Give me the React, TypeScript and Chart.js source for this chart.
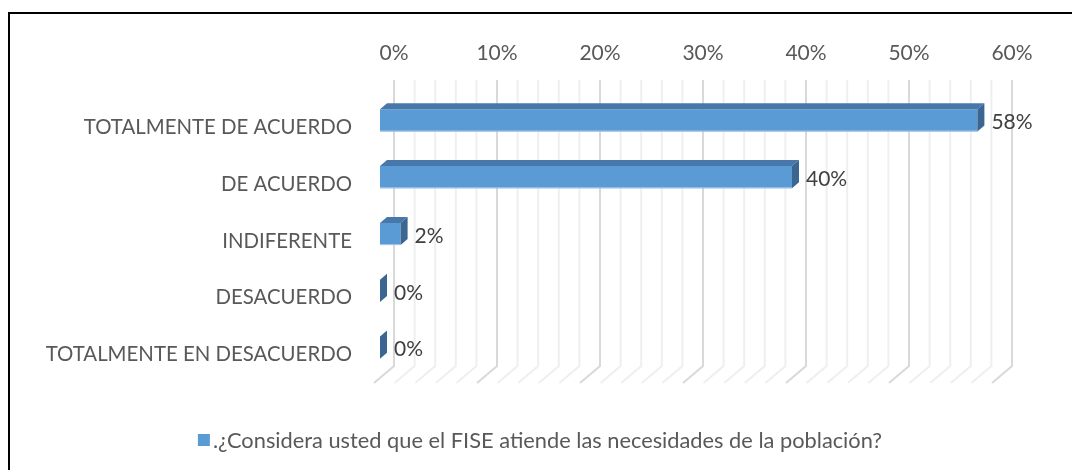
import React, { useEffect, useRef } from "react";
import { Chart, registerables } from "chart.js";

Chart.register(...registerables);

// ---- data ----
const categories = [
  "TOTALMENTE DE ACUERDO",
  "DE ACUERDO",
  "INDIFERENTE",
  "DESACUERDO",
  "TOTALMENTE EN DESACUERDO",
];
const values = [58, 40, 2, 0, 0];
const seriesName =
  ".¿Considera usted que el FISE atiende las necesidades de la población?";
const axisMin = 0;
const axisMax = 60;
const gridStep = 2;
const labelStep = 10;

// ---- style ----
const FONT = "Lato";
const FONT_SIZE = 21;
const CAT_FONT_SIZE = 20.4;
const LEGEND_FONT_SIZE = 21.8;
const TEXT = "#595959";
const BAR = "#5B9BD5";
const BAR_TOP = "#4878aa";
const BAR_SIDE = "#3b6692";
const DEPTH_X = 7;
const DEPTH_Y = -6;

const framePlugin = {
  id: "frame",
  beforeDraw(chart: any) {
    const ctx = chart.ctx;
    ctx.save();
    ctx.fillStyle = "#ffffff";
    ctx.fillRect(0, 0, chart.width, chart.height);
    ctx.strokeStyle = "#000000";
    ctx.lineWidth = 2;
    ctx.beginPath();
    ctx.moveTo(9, chart.height);
    ctx.lineTo(9, 13);
    ctx.lineTo(chart.width, 13);
    ctx.stroke();
    ctx.restore();
  },
};

const gridPlugin = {
  id: "grid3d",
  beforeDatasetsDraw(chart: any) {
    const ctx = chart.ctx;
    const xs = chart.scales.x;
    const { top, bottom } = chart.chartArea;
    ctx.save();
    ctx.lineWidth = 2;
    const draw = (major: boolean) => {
      for (let v = axisMin; v <= axisMax; v += gridStep) {
        const isMajor = v % labelStep === 0;
        if (isMajor !== major) continue;
        const xb = xs.getPixelForValue(v) + 14;
        ctx.strokeStyle = isMajor ? "#d9d9d9" : "#efefef";
        ctx.beginPath();
        ctx.moveTo(xb, top - 12);
        ctx.lineTo(xb, bottom - 10);
        ctx.lineTo(xb - 20, bottom + 7);
        ctx.stroke();
      }
    };
    draw(false);
    draw(true);
    ctx.restore();
  },
};

const barFacesPlugin = {
  id: "barFaces",
  afterDatasetsDraw(chart: any) {
    const ctx = chart.ctx;
    const meta = chart.getDatasetMeta(0);
    ctx.save();
    meta.data.forEach((el: any, i: number) => {
      const { x, y, base, height } = el.getProps(
        ["x", "y", "base", "height"],
        true
      );
      const t = y - height / 2;
      const b = y + height / 2;
      // top face
      ctx.fillStyle = BAR_TOP;
      ctx.beginPath();
      ctx.moveTo(base, t);
      ctx.lineTo(x, t);
      ctx.lineTo(x + DEPTH_X, t + DEPTH_Y);
      ctx.lineTo(base + DEPTH_X, t + DEPTH_Y);
      ctx.closePath();
      ctx.fill();
      // side face
      ctx.fillStyle = BAR_SIDE;
      ctx.beginPath();
      ctx.moveTo(x, t);
      ctx.lineTo(x + DEPTH_X, t + DEPTH_Y);
      ctx.lineTo(x + DEPTH_X, b + DEPTH_Y);
      ctx.lineTo(x, b);
      ctx.closePath();
      ctx.fill();
      // light bottom edge of front face
      if (x > base) {
        ctx.strokeStyle = "#a9c7e6";
        ctx.lineWidth = 1;
        ctx.beginPath();
        ctx.moveTo(base, b - 0.5);
        ctx.lineTo(x, b - 0.5);
        ctx.stroke();
      }
      // data label
      ctx.fillStyle = "#404040";
      ctx.font = `${FONT_SIZE}px ${FONT}`;
      ctx.textAlign = "left";
      ctx.textBaseline = "middle";
      ctx.fillText(`${values[i]}%`, x + 14, y + 2);
    });
    ctx.restore();
  },
};

const legendPlugin = {
  id: "customLegend",
  afterDraw(chart: any) {
    const ctx = chart.ctx;
    ctx.save();
    ctx.font = `${LEGEND_FONT_SIZE}px ${FONT}`;
    const tw = ctx.measureText(seriesName).width;
    const box = 12;
    const gap = 3;
    const total = box + gap + tw;
    const cx = 540;
    const cy = 440;
    const x0 = cx - total / 2;
    ctx.fillStyle = BAR;
    ctx.fillRect(x0, cy - box / 2, box, box);
    ctx.fillStyle = TEXT;
    ctx.textAlign = "left";
    ctx.textBaseline = "middle";
    ctx.fillText(seriesName, x0 + box + gap, cy + 1);
    ctx.restore();
  },
};

export default function App() {
  const ref = useRef<HTMLCanvasElement | null>(null);

  useEffect(() => {
    document.body.style.margin = "0";
    if (!ref.current) return;
    const chart = new Chart(ref.current, {
      type: "bar",
      data: {
        labels: categories,
        datasets: [
          {
            label: seriesName,
            data: values,
            backgroundColor: BAR,
            borderWidth: 0,
            barPercentage: 0.39,
            categoryPercentage: 1,
          },
        ],
      },
      options: {
        indexAxis: "y",
        responsive: false,
        animation: false,
        layout: { padding: { left: 0, right: 74, top: 0, bottom: 94 } },
        plugins: {
          legend: { display: false },
          tooltip: { enabled: false },
        },
        scales: {
          x: {
            position: "top",
            min: axisMin,
            max: axisMax,
            grid: { display: false, drawTicks: false },
            border: { display: false },
            ticks: {
              stepSize: labelStep,
              callback: (v: any) => `${v}%`,
              color: TEXT,
              font: { family: FONT, size: FONT_SIZE },
              padding: 26,
              labelOffset: 14,
              maxRotation: 0,
            },
            afterFit: (scale: any) => {
              scale.height = 92;
            },
          },
          y: {
            grid: { display: false, drawTicks: false },
            border: { display: false },
            ticks: {
              color: TEXT,
              font: { family: FONT, size: CAT_FONT_SIZE },
              padding: 28,
              labelOffset: 7,
            },
            afterFit: (scale: any) => {
              scale.width = 380;
            },
          },
        },
      },
      plugins: [framePlugin, gridPlugin, barFacesPlugin, legendPlugin],
    });
    return () => chart.destroy();
  }, []);

  return (
    <div style={{ width: 1072, height: 470 }}>
      <canvas ref={ref} width={1072} height={470} style={{ display: "block" }} />
    </div>
  );
}
